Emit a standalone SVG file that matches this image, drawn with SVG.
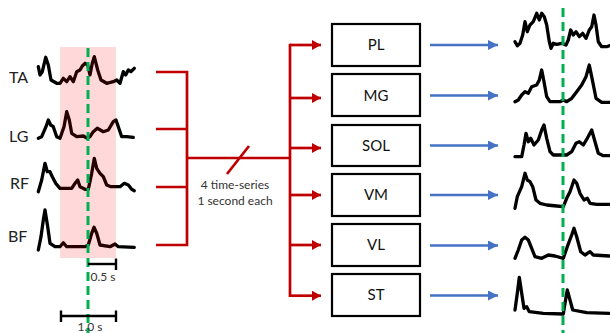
<svg xmlns="http://www.w3.org/2000/svg" width="610" height="333" viewBox="0 0 610 333">
  <style>
    .lbl { font-family: Lato, "Liberation Sans", sans-serif; font-size: 16px; fill: #222; }
    .box-lbl { font-family: Lato, "Liberation Sans", sans-serif; font-size: 15px; fill: #111; text-anchor: middle; }
    .small { font-family: Lato, "Liberation Sans", sans-serif; font-size: 12px; fill: #333; text-anchor: middle; }
    .trace { fill: none; stroke: #000; stroke-width: 3.3; stroke-linejoin: round; stroke-linecap: round; }
    .box { fill: #fff; stroke: #000; stroke-width: 2.2; }
    .red { fill: none; stroke: #C00000; stroke-width: 2.7; }
    .blue { fill: none; stroke: #4472C4; stroke-width: 2.6; }
    .onset { fill: none; stroke: #00B050; stroke-width: 3; stroke-dasharray: 9 5; }
    .bar { fill: none; stroke: #000; stroke-width: 2.4; }
  </style>
  <defs>
    <marker id="arrowRed" markerUnits="userSpaceOnUse" markerWidth="10" markerHeight="10" refX="9" refY="5" orient="auto">
      <path d="M0,0 L9,5 L0,10 z" fill="#C00000"/>
    </marker>
    <marker id="arrowBlue" markerUnits="userSpaceOnUse" markerWidth="11" markerHeight="11" refX="10" refY="5" orient="auto">
      <path d="M0,0 L10,5 L0,10 z" fill="#4472C4"/>
    </marker>
  </defs>

  <!-- input EMG traces -->
  <g id="inputs">
    <text class="lbl" x="9" y="83">TA</text>
    <text class="lbl" x="9" y="142">LG</text>
    <text class="lbl" x="10" y="189">RF</text>
    <text class="lbl" x="8" y="242">BF</text>
    <polyline class="trace" points="38.3,66.7 40,75 42.3,71.7 45.7,57.3 48.3,65 51,80 56.7,83.3 60,83.3 63.3,78.3 66.7,81.7 70,76.7 73.3,81.7 76.7,71.7 80,70 82.3,66 85,63.3 87.7,65 90,75 92.3,63.3 94.3,56.7 97.7,70 101,80 106.7,83.3 113.3,81.7 116.7,80 120,83.3 123.3,71.7 125.7,75 128.3,70 131,71.7 134.3,68.3"/>
    <polyline class="trace" points="38.3,138.3 41.7,136.7 46,126.7 48.3,120 50.7,125 53.3,126.7 56.7,136.7 60,138.3 64,126.7 66.7,111.7 69.3,120 71.7,133.3 76.7,136.7 83.3,136 87.3,138.3 90,136.7 93.3,131.7 97.3,128.3 103.3,131.7 108.3,130 113.3,121.7 116,120 118.3,126.7 121.7,136.7 126.7,136.7 133.3,137.3"/>
    <polyline class="trace" points="38.3,191.7 41.7,180 45,163.3 47.3,171.7 50,171.7 52.3,176.7 55.7,183.3 60,188.3 71.7,188.3 75,183.3 77.7,180 80,186.7 85,189.3 88.3,189.3 91.7,173.3 94.3,158.3 96.7,168.3 100,173.3 103.3,176.7 106.7,185 111,186.7 115,186.7 120,186.7 124.3,183.3 128.3,185 131.7,189.3 134.3,190.7"/>
    <polyline class="trace" points="38.3,250 41,236.7 43.3,220 45,210 47.7,226.7 50,243.3 55,246.7 60,246.7 63.3,242.7 66.7,246.7 85,246.7 88.3,245 91.7,233.3 94,227.3 96.7,233.3 100,245 110,246.7 115,244 118.3,246.7 134.3,247.3"/>
  </g>

  <!-- 1 s analysis window and onset marker -->
  <g id="window">
    <rect x="60" y="47" width="56" height="211" fill="#FF0000" fill-opacity="0.15"/>
    <line class="onset" x1="88" y1="48" x2="88" y2="333"/>
  </g>

  <!-- time scale bars -->
  <g id="scale">
    <line class="bar" x1="88" y1="264" x2="116" y2="264"/>
    <line class="bar" x1="116" y1="258.5" x2="116" y2="270"/>
    <text class="small" x="103" y="281">0.5 s</text>
    <line class="bar" x1="61" y1="316" x2="116" y2="316"/>
    <line class="bar" x1="61" y1="310.5" x2="61" y2="322"/>
    <line class="bar" x1="116" y1="310.5" x2="116" y2="322"/>
    <text class="small" x="90" y="331">1.0 s</text>
  </g>

  <!-- connectors -->
  <g id="connectors">
    <path class="red" d="M156,72 H187 M156,129 H187 M156,187 H187 M156,245 H187 M187,70.7 V246.3 M187,158 H290 M290,43.7 V297"/>
    <line class="red" x1="227" y1="174" x2="249" y2="146"/>
    <line class="red" x1="290" y1="45" x2="321" y2="45" marker-end="url(#arrowRed)"/>
    <line class="red" x1="290" y1="98" x2="321" y2="98" marker-end="url(#arrowRed)"/>
    <line class="red" x1="290" y1="148" x2="321" y2="148" marker-end="url(#arrowRed)"/>
    <line class="red" x1="290" y1="195" x2="321" y2="195" marker-end="url(#arrowRed)"/>
    <line class="red" x1="290" y1="245" x2="321" y2="245" marker-end="url(#arrowRed)"/>
    <line class="red" x1="290" y1="295.7" x2="321" y2="295.7" marker-end="url(#arrowRed)"/>
    <line class="blue" x1="430" y1="45" x2="498" y2="45" marker-end="url(#arrowBlue)"/>
    <line class="blue" x1="430" y1="95.5" x2="498" y2="95.5" marker-end="url(#arrowBlue)"/>
    <line class="blue" x1="430" y1="145.5" x2="498" y2="145.5" marker-end="url(#arrowBlue)"/>
    <line class="blue" x1="430" y1="195" x2="498" y2="195" marker-end="url(#arrowBlue)"/>
    <line class="blue" x1="430" y1="245.5" x2="498" y2="245.5" marker-end="url(#arrowBlue)"/>
    <line class="blue" x1="430" y1="295.5" x2="498" y2="295.5" marker-end="url(#arrowBlue)"/>
  </g>
  <text class="small" x="235" y="189">4 time-series</text>
  <text class="small" x="235" y="205">1 second each</text>

  <!-- output muscle nodes -->
  <g id="node-PL"><rect class="box" x="332" y="24" width="88" height="42"/><text class="box-lbl" x="376" y="50">PL</text></g>
  <g id="node-MG"><rect class="box" x="332" y="74" width="88" height="42"/><text class="box-lbl" x="376" y="101">MG</text></g>
  <g id="node-SOL"><rect class="box" x="332" y="125" width="88" height="41"/><text class="box-lbl" x="376" y="151">SOL</text></g>
  <g id="node-VM"><rect class="box" x="332" y="174" width="88" height="42"/><text class="box-lbl" x="376" y="200">VM</text></g>
  <g id="node-VL"><rect class="box" x="332" y="224" width="88" height="42"/><text class="box-lbl" x="376" y="250">VL</text></g>
  <g id="node-ST"><rect class="box" x="332" y="274" width="88" height="42"/><text class="box-lbl" x="376" y="300">ST</text></g>

  <!-- predicted output traces -->
  <g id="outputs">
    <polyline class="trace" points="515,41.7 517.3,45.7 520,43.3 522.7,35 525,21.7 527.3,31.7 530,25 533.3,21.7 536.7,13.3 539.3,20 541.7,13.3 544.3,16.7 546.7,25 549.3,41.7 551,48.3 553.3,43.3 556.7,44.3 561.7,43.3 566,45 568.3,40 570.7,30 573.3,35 576,31.7 579.3,36.7 582.7,33.3 586,38.3 589.3,30 591.7,26.7 594,15 596,25 598.3,41.7 601.7,46.7 606.7,46.7 609.3,45.7"/>
    <polyline class="trace" points="515,101.7 518.3,100 521.7,95 525,91.7 528.3,93.3 531.7,86.7 536.7,85 539.3,80 541.7,70 544,81.7 546.7,96.7 550,101.7 560,101.7 563.3,100 566.7,101.7 571.7,98.3 576.7,91.7 581.7,85 586,76.7 589.3,65 592.7,81.7 596,98.3 601.7,102.3 609.3,102.3"/>
    <polyline class="trace" points="515,156.7 521.7,156.7 524,145 526,133.3 528.3,141.7 530.7,138.3 534,145 538.3,140 541.7,130 544,125 546.7,138.3 550,151.7 553.3,155 566.7,155 571.7,151.7 576,143.3 579.3,141.7 583.3,145 587.3,138.3 591.7,130 595,141.7 598.3,153.3 603.3,155.7 609.3,155.7"/>
    <polyline class="trace" points="515,208.3 517.3,196.7 521.7,186.7 525,173.3 527.3,180 530,181.7 532.7,186.7 536,200 540,203.3 546.7,205 556.7,206 563.3,206.7 566.7,198.3 570,191.7 574,180 576.7,183.3 580,193.3 584,200 587.3,198.3 590,203.3 596.7,204.3 609.3,204.3"/>
    <polyline class="trace" points="515,258.3 518.3,250 521.7,240 525,237.3 528.3,240 531.7,248.3 535,256.7 541.7,258.3 548.3,255 555,256 563.3,258.3 567.3,246.7 571.7,235 574,228.3 576.7,236.7 580.7,251.7 585,255 590,251.7 593.3,255 609.3,256"/>
    <polyline class="trace" points="515,310 517.3,293.3 519.3,277.3 521.7,293.3 524,308.3 526.7,306.7 529.3,311.7 543.3,313.3 563.3,314 565,303.3 567.3,290 570,300 572.7,310 586.7,312.7 609.3,313.3"/>
    <line class="onset" x1="563" y1="8" x2="563" y2="333"/>
  </g>
</svg>
